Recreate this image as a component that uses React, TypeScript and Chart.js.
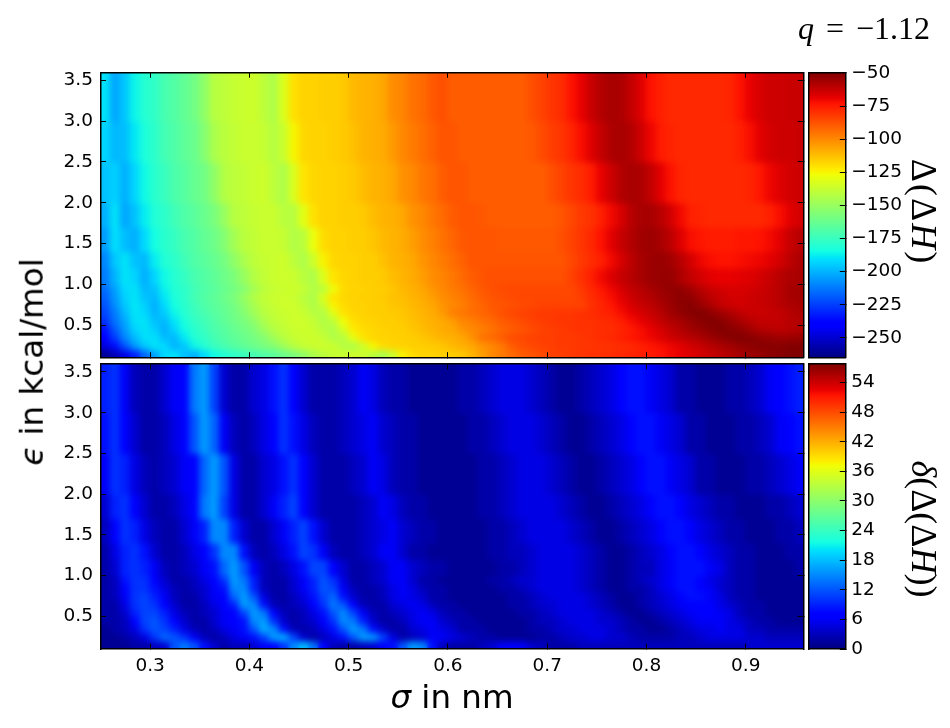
import React, { useEffect, useRef } from 'react';
import Chart from 'chart.js/auto';

// column centres in nm and row edges in kcal/mol (top row first)
const sigmaCols = [0.255,0.265,0.275,0.285,0.295,0.305,0.315,0.325,0.335,0.345,0.355,0.365,0.375,0.385,0.395,0.405,0.415,0.425,0.435,0.445,0.455,0.465,0.475,0.485,0.495,0.505,0.515,0.525,0.535,0.545,0.555,0.565,0.575,0.585,0.595,0.605,0.615,0.625,0.635,0.645,0.655,0.665,0.675,0.685,0.695,0.705,0.715,0.725,0.735,0.745,0.755,0.765,0.775,0.785,0.795,0.805,0.815,0.825,0.835,0.845,0.855,0.865,0.875,0.885,0.895,0.905,0.915,0.925,0.935,0.945,0.955];
const epsEdges = [3.6,3.0,2.5,2.0,1.7,1.4,1.2,1.0,0.9,0.8,0.7,0.6,0.5,0.4,0.3,0.2,0.1];

const sigmaTicks = [0.3,0.4,0.5,0.6,0.7,0.8,0.9];
const epsTicks = [0.5,1.0,1.5,2.0,2.5,3.0,3.5];
const deltaTicks = [-250,-225,-200,-175,-150,-125,-100,-75,-50];
const spreadTicks = [0,6,12,18,24,30,36,42,48,54];
const deltaRange = [-265, -49.5];
const spreadRange = [0, 57.8];

const deltaH = [
[-190,-203,-196,-186,-180,-177,-171,-168,-164,-160,-152,-142,-140,-138,-137,-136,-140,-144,-132,-120,-117,-117,-116,-116,-115,-111,-110,-109,-107,-101,-99,-95,-93,-89,-87,-90,-90,-90,-90,-90,-90,-90,-90,-87,-84,-81,-79,-73,-69,-63,-59,-57,-58,-62,-67,-73,-76,-78,-78,-78,-78,-78,-78,-77,-73,-69,-66,-64,-64,-63,-63],
[-193,-199,-198,-189,-182,-178,-172,-169,-165,-162,-155,-145,-141,-139,-137,-137,-138,-142,-137,-125,-118,-117,-117,-116,-115,-113,-110,-109,-108,-104,-100,-97,-94,-91,-88,-88,-90,-90,-90,-90,-90,-90,-90,-89,-86,-83,-81,-77,-72,-67,-62,-58,-57,-59,-64,-70,-75,-77,-78,-78,-78,-78,-78,-78,-76,-72,-68,-65,-64,-64,-63],
[-197,-194,-201,-193,-185,-179,-175,-170,-167,-163,-160,-152,-143,-140,-139,-137,-136,-140,-144,-133,-121,-118,-117,-117,-116,-115,-112,-110,-109,-107,-102,-100,-96,-94,-90,-88,-88,-90,-90,-90,-90,-90,-90,-90,-90,-87,-84,-81,-79,-75,-69,-64,-59,-57,-58,-62,-68,-73,-77,-78,-78,-78,-78,-78,-78,-77,-74,-70,-67,-65,-64],
[-201,-190,-203,-197,-188,-181,-178,-173,-169,-166,-162,-158,-150,-142,-140,-138,-137,-137,-141,-142,-130,-120,-117,-117,-116,-116,-115,-112,-110,-109,-107,-102,-100,-96,-93,-90,-88,-88,-89,-90,-90,-90,-90,-90,-90,-90,-88,-85,-82,-80,-76,-71,-66,-60,-57,-57,-60,-65,-71,-76,-77,-78,-78,-78,-78,-78,-78,-76,-72,-68,-65],
[-205,-191,-198,-201,-192,-184,-179,-176,-171,-168,-164,-161,-155,-147,-141,-139,-137,-137,-138,-143,-141,-128,-119,-117,-117,-116,-116,-114,-111,-110,-108,-105,-101,-98,-95,-92,-89,-88,-88,-88,-89,-89,-89,-89,-89,-89,-87,-84,-81,-78,-73,-68,-63,-59,-56,-55,-57,-61,-67,-72,-74,-75,-75,-75,-74,-74,-73,-71,-68,-63,-60],
[-210,-196,-190,-197,-199,-188,-181,-178,-173,-169,-166,-163,-159,-152,-145,-140,-138,-137,-136,-140,-144,-136,-124,-118,-117,-117,-116,-116,-113,-110,-109,-107,-103,-100,-97,-94,-91,-88,-88,-88,-88,-88,-88,-88,-88,-88,-88,-85,-82,-79,-76,-71,-66,-61,-57,-55,-54,-56,-60,-65,-70,-72,-73,-73,-72,-71,-70,-68,-65,-61,-58],
[-212,-200,-190,-193,-201,-193,-185,-180,-176,-171,-168,-165,-161,-157,-150,-143,-139,-137,-136,-137,-141,-144,-132,-121,-118,-117,-116,-116,-115,-112,-110,-108,-105,-101,-99,-96,-93,-90,-88,-87,-87,-87,-87,-87,-87,-87,-87,-84,-80,-76,-71,-67,-63,-60,-57,-55,-54,-54,-58,-62,-65,-68,-69,-69,-68,-67,-65,-63,-60,-58,-57],
[-215,-204,-192,-190,-199,-197,-187,-181,-178,-173,-169,-166,-163,-159,-155,-147,-141,-138,-137,-136,-138,-143,-141,-127,-119,-117,-117,-116,-116,-114,-111,-109,-107,-103,-100,-97,-95,-92,-89,-87,-86,-85,-85,-85,-85,-85,-85,-85,-82,-78,-74,-70,-66,-62,-60,-57,-55,-53,-53,-56,-60,-63,-65,-66,-66,-65,-64,-62,-60,-57,-56],
[-218,-206,-194,-190,-197,-199,-189,-182,-178,-172,-168,-165,-161,-157,-150,-143,-139,-137,-136,-137,-141,-144,-132,-121,-118,-117,-116,-116,-115,-113,-112,-110,-108,-105,-101,-99,-96,-93,-90,-88,-87,-86,-85,-85,-85,-85,-85,-85,-83,-79,-76,-72,-68,-64,-61,-59,-56,-54,-52,-53,-57,-61,-63,-65,-65,-64,-63,-62,-60,-57,-56],
[-221,-208,-196,-189,-194,-201,-192,-184,-179,-174,-169,-166,-163,-159,-153,-146,-140,-138,-136,-136,-139,-144,-137,-124,-119,-117,-117,-116,-116,-114,-113,-111,-109,-107,-103,-100,-98,-94,-92,-89,-88,-87,-86,-85,-84,-84,-84,-84,-84,-80,-77,-74,-70,-66,-63,-61,-58,-55,-52,-51,-54,-58,-62,-64,-65,-64,-63,-62,-60,-58,-57],
[-224,-212,-199,-190,-192,-200,-195,-186,-180,-175,-171,-167,-164,-160,-155,-148,-142,-139,-137,-136,-137,-141,-143,-131,-121,-118,-117,-116,-116,-115,-114,-112,-110,-108,-104,-98,-96,-94,-92,-90,-87,-85,-84,-83,-82,-82,-81,-81,-80,-79,-77,-76,-72,-69,-66,-63,-60,-56,-53,-51,-50,-52,-55,-58,-61,-63,-63,-63,-62,-60,-58],
[-228,-214,-203,-191,-190,-197,-199,-190,-183,-177,-173,-169,-165,-161,-158,-153,-145,-140,-138,-136,-136,-138,-143,-140,-127,-120,-118,-117,-116,-116,-115,-113,-111,-109,-108,-105,-100,-98,-95,-93,-90,-88,-86,-84,-83,-82,-81,-81,-80,-80,-79,-78,-76,-72,-69,-66,-62,-59,-57,-54,-52,-50,-51,-54,-57,-60,-62,-62,-62,-60,-59],
[-235,-219,-206,-194,-190,-194,-201,-193,-185,-179,-175,-170,-167,-163,-160,-156,-149,-143,-139,-137,-136,-137,-141,-144,-134,-123,-119,-118,-117,-116,-116,-114,-112,-110,-108,-107,-103,-100,-98,-95,-92,-90,-88,-86,-84,-83,-82,-81,-80,-80,-79,-79,-77,-75,-72,-69,-66,-62,-59,-56,-54,-52,-50,-51,-53,-56,-59,-60,-61,-60,-59],
[-241,-226,-210,-199,-191,-191,-198,-199,-189,-181,-177,-172,-168,-165,-162,-159,-155,-148,-142,-138,-137,-136,-138,-143,-142,-130,-121,-118,-117,-117,-116,-116,-114,-112,-110,-109,-107,-102,-95,-93,-90,-86,-85,-84,-83,-83,-82,-82,-81,-80,-79,-78,-76,-74,-72,-70,-67,-64,-62,-60,-58,-55,-53,-51,-50,-51,-53,-54,-55,-55,-54],
[-247,-236,-221,-206,-196,-190,-192,-200,-196,-186,-180,-175,-171,-167,-164,-161,-158,-155,-148,-142,-138,-137,-136,-137,-142,-144,-136,-125,-119,-117,-117,-116,-116,-115,-114,-111,-109,-107,-103,-100,-96,-90,-87,-85,-84,-83,-82,-82,-81,-81,-80,-80,-79,-78,-76,-74,-72,-70,-68,-65,-63,-60,-58,-56,-54,-52,-51,-51,-51,-50,-50],
[-261,-255,-246,-232,-217,-204,-192,-190,-197,-201,-192,-185,-181,-178,-175,-172,-169,-166,-162,-158,-152,-145,-141,-138,-137,-136,-137,-141,-145,-137,-124,-119,-117,-117,-116,-116,-114,-110,-105,-100,-97,-93,-90,-88,-86,-84,-83,-82,-81,-80,-80,-79,-78,-77,-76,-75,-73,-71,-69,-67,-65,-63,-61,-59,-57,-55,-54,-52,-51,-50,-49],
];

const spreadH = [
[9,10,6,3,2,2,4,6,7,14,16,11,4,2,2,4,5,8,10,7,4,2,2,2,3,4,6,5,3,2,2,1,1,1,1,1,2,2,3,4,5,5,5,4,3,2,1,1,2,3,4,5,7,8,8,6,5,4,2,2,1,1,1,2,2,3,4,6,7,8,9],
[8,10,7,4,2,2,3,5,7,12,16,13,6,3,2,3,5,7,10,8,5,3,2,2,3,4,5,6,4,3,2,2,1,1,1,1,1,2,2,3,4,5,5,5,4,3,2,1,1,2,3,4,5,7,8,8,6,5,4,2,2,1,1,1,2,2,3,4,6,7,8],
[6,10,9,5,3,2,3,4,6,7,13,16,12,5,2,2,4,5,8,10,7,4,2,2,2,3,4,6,5,3,2,2,1,1,1,1,1,1,2,2,3,4,5,5,5,4,3,2,1,1,2,3,4,5,7,8,8,6,5,4,2,2,1,1,1,2,2,3,4,5,6],
[4,9,10,7,4,2,2,3,5,7,14,16,11,5,2,2,4,6,9,11,7,4,2,2,2,2,3,4,6,5,3,2,2,1,1,1,1,1,2,2,3,4,5,5,5,5,4,3,2,1,1,2,3,4,5,7,8,8,7,5,4,3,2,2,1,1,1,2,2,3,4],
[3,7,10,9,5,3,2,2,4,6,9,15,15,9,4,2,2,4,6,9,11,8,4,2,2,2,3,4,5,6,4,3,2,2,1,1,1,1,1,2,2,3,4,5,5,5,5,4,3,2,1,1,2,3,4,5,7,8,8,7,5,4,3,2,2,1,1,1,2,2,3],
[2,5,9,10,8,4,2,2,3,5,7,10,15,15,8,3,2,3,5,8,11,10,6,3,2,2,3,4,6,6,4,2,2,1,1,1,1,1,1,2,2,3,3,4,5,5,5,5,4,3,2,1,1,2,3,4,5,7,8,8,7,5,4,3,2,2,1,1,1,2,2],
[2,4,9,10,9,6,3,2,3,4,6,8,13,16,12,6,3,2,3,5,8,11,11,7,4,2,2,3,4,6,6,4,3,2,2,1,1,1,1,1,2,2,3,4,5,5,5,5,4,3,2,1,1,2,3,3,5,6,8,8,8,6,5,3,2,2,1,1,1,1,2],
[2,3,8,10,10,7,4,2,2,3,5,7,10,16,14,9,3,2,2,4,6,9,12,10,5,2,2,3,4,6,6,4,2,2,1,1,1,1,1,2,2,3,4,4,5,5,5,5,4,3,2,1,1,2,3,4,5,7,8,8,7,5,4,3,2,2,1,1,1,1,1],
[2,3,7,10,10,8,5,3,2,3,4,6,8,15,15,9,3,2,2,4,6,9,12,11,6,3,2,2,3,5,6,5,3,2,2,1,1,1,1,1,2,2,3,4,5,5,5,5,4,3,2,1,1,2,2,3,5,6,8,8,7,6,4,3,2,2,1,1,1,1,1],
[2,3,6,10,11,9,6,3,2,2,4,6,7,13,16,12,5,2,2,3,5,8,11,13,8,4,2,2,3,5,6,5,4,2,2,1,1,1,1,1,1,2,2,3,4,5,5,5,5,4,3,2,1,1,2,3,4,5,7,8,8,6,5,3,2,2,1,1,1,1,1],
[2,2,5,10,11,10,7,4,2,2,3,5,7,9,16,15,8,3,2,3,4,7,10,14,12,7,3,2,2,4,5,6,5,3,2,2,1,1,1,1,1,2,2,3,4,4,5,5,5,4,3,2,1,1,2,3,4,5,6,7,7,7,5,4,3,2,2,1,1,1,1],
[2,2,4,9,11,11,9,5,3,2,3,4,6,7,11,16,14,7,3,2,3,5,8,12,15,11,6,3,2,3,4,5,6,5,3,2,2,1,1,1,1,1,2,2,3,4,5,5,5,5,4,3,2,1,1,2,3,4,5,6,7,7,6,5,3,2,2,1,1,1,1],
[2,2,3,7,11,12,10,7,4,2,2,4,6,7,8,15,16,10,4,2,3,4,7,10,15,14,9,4,2,2,3,5,6,6,4,3,2,2,1,1,1,1,1,2,3,3,4,5,5,5,4,4,3,2,1,1,2,3,4,5,6,6,6,5,4,3,2,2,1,1,1],
[1,2,3,5,10,12,11,9,5,3,2,3,5,6,8,12,17,15,8,3,2,3,5,8,12,16,14,8,4,2,2,4,5,6,5,4,2,2,2,1,1,1,1,2,2,3,4,4,5,5,5,4,3,2,2,1,1,2,3,4,5,5,6,5,5,3,3,2,2,2,2],
[1,1,2,3,5,10,13,12,10,6,3,2,3,5,6,8,11,16,17,11,4,2,3,5,8,12,16,16,11,5,2,3,4,6,6,5,4,3,2,2,1,1,1,1,2,2,3,4,4,5,5,4,4,3,2,2,2,2,3,3,4,5,5,5,5,4,4,3,3,3,3],
[1,1,1,2,2,3,4,12,14,12,8,4,2,3,3,4,6,7,10,15,18,14,7,3,2,2,3,4,6,8,12,16,15,8,3,2,2,2,3,4,6,7,6,4,3,2,2,2,3,3,3,3,3,3,3,3,3,3,3,3,3,3,3,3,3,4,4,4,4,4,4],
];

const TICK_FONT = { family: "'DejaVu Sans'", size: 18.5 };

// matplotlib's jet, as its red, green and blue breakpoints
const JET: number[][][] = [
  [[0, 0], [0.35, 0], [0.66, 1], [0.89, 1], [1, 0.5]],
  [[0, 0], [0.125, 0], [0.375, 1], [0.64, 1], [0.91, 0], [1, 0]],
  [[0, 0.5], [0.11, 1], [0.34, 1], [0.65, 0], [1, 0]],
];
const JET_STOPS = [0, 0.11, 0.125, 0.34, 0.35, 0.375, 0.64, 0.65, 0.66, 0.89, 0.91, 1];

const jet = (t: number) => {
  const c = Math.min(1, Math.max(0, t));
  const rgb = JET.map((pts) => {
    for (let i = 1; i < pts.length; i++) {
      if (c <= pts[i][0]) {
        const [x0, y0] = pts[i - 1];
        const [x1, y1] = pts[i];
        return Math.round(255 * (y0 + ((y1 - y0) * (c - x0)) / (x1 - x0)));
      }
    }
    return 0;
  });
  return `rgb(${rgb[0]},${rgb[1]},${rgb[2]})`;
};

// the reference is an interpolated image, so soften the cell edges before the frame goes on top
const softenCells = {
  id: 'softenCells',
  afterDatasetsDraw(chart: any) {
    const { ctx, canvas, chartArea: a } = chart;
    const r = canvas.width / chart.width;
    ctx.save();
    ctx.beginPath();
    ctx.rect(a.left, a.top, a.width, a.height);
    ctx.clip();
    ctx.filter = 'blur(3px)';
    ctx.drawImage(canvas, a.left * r, a.top * r, a.width * r, a.height * r, a.left, a.top, a.width, a.height);
    ctx.restore();
  },
};

// frame side plus inward tick marks, like a matplotlib axes
const side = (size: number, vertical: boolean, position: string, range: number[], ticks: number[], extra: any = {}) => ({
  type: 'linear',
  position,
  min: range[0],
  max: range[1],
  offset: false,
  afterFit: (s: any) => {
    if (vertical) s.width = size;
    else s.height = size;
    // the labels' own padding would push the chart area in
    s.paddingLeft = s.paddingRight = s.paddingTop = s.paddingBottom = 0;
  },
  afterBuildTicks: (s: any) => {
    s.ticks = ticks.map((value) => ({ value }));
  },
  border: { display: true, color: '#000', width: 1.5, z: 2 },
  grid: {
    offset: false,
    drawOnChartArea: false,
    drawTicks: ticks.length > 0,
    tickLength: -5.5,
    tickColor: '#000',
    tickWidth: 1,
    z: 2,
  },
  ticks: { display: false, autoSkip: false, maxRotation: 0, color: '#000', font: TICK_FONT, z: 2, ...extra },
});

const baseOptions = {
  responsive: false,
  animation: false,
  events: [],
  layout: { autoPadding: false, padding: 0 },
  plugins: { legend: { display: false }, tooltip: { enabled: false } },
};

type HeatProps = { rows: number[][]; range: number[]; top: number; height: number; topGap: number; bottomGap: number; showX: boolean };

const HeatPanel = ({ rows, range, top, height, topGap, bottomGap, showX }: HeatProps) => {
  const ref = useRef<HTMLCanvasElement>(null);

  useEffect(() => {
    if (!ref.current) return;
    const sigmaRange = [0.25, 0.958];
    const chart = new Chart(ref.current, {
      type: 'bar',
      plugins: [softenCells],
      data: {
        datasets: rows.map((row, r) => ({
          data: row.map((_, c) => ({ x: sigmaCols[c], y: [epsEdges[r + 1], epsEdges[r]] })),
          backgroundColor: row.map((v) => jet((v - range[0]) / (range[1] - range[0]))),
          grouped: false,
          barPercentage: 1,
          categoryPercentage: 1,
          borderWidth: 0,
          inflateAmount: 0.6,
        })),
      },
      options: {
        ...baseOptions,
        scales: {
          x: side(bottomGap, false, 'bottom', sigmaRange, sigmaTicks, {
            display: showX,
            padding: 12,
            callback: (v: any) => Number(v).toFixed(1),
          }),
          xTop: side(topGap, false, 'top', sigmaRange, sigmaTicks),
          y: side(100.5, true, 'left', [0.1, 3.6], epsTicks, {
            display: true,
            padding: 13,
            callback: (v: any) => Number(v).toFixed(1),
          }),
          yRight: side(4.7, true, 'right', [0.1, 3.6], epsTicks),
        },
      },
    } as any);
    return () => chart.destroy();
  }, []);

  return <canvas ref={ref} width={808} height={height} style={{ position: 'absolute', left: 0, top }} />;
};

type BarProps = { range: number[]; ticks: number[]; top: number; height: number; topGap: number; bottomGap: number };

const ColorBar = ({ range, ticks, top, height, topGap, bottomGap }: BarProps) => {
  const ref = useRef<HTMLCanvasElement>(null);

  useEffect(() => {
    if (!ref.current) return;
    const chart = new Chart(ref.current, {
      type: 'bar',
      data: {
        datasets: [
          {
            data: [{ x: 0.5, y: range }],
            barThickness: 60,
            grouped: false,
            borderWidth: 0,
            backgroundColor: (c: any) => {
              const area = c.chart.chartArea;
              if (!area) return 'transparent';
              const g = c.chart.ctx.createLinearGradient(0, area.bottom, 0, area.top);
              JET_STOPS.forEach((s) => g.addColorStop(s, jet(s)));
              return g;
            },
          },
        ],
      },
      options: {
        ...baseOptions,
        scales: {
          x: side(bottomGap, false, 'bottom', [0, 1], []),
          xTop: side(topGap, false, 'top', [0, 1], []),
          yLeft: side(9, true, 'left', range, []),
          y: side(104.7, true, 'right', range, ticks, {
            display: true,
            padding: 11.5,
            callback: (v: any) => String(v).replace('-', '\u2212'),
          }),
        },
      },
    } as any);
    return () => chart.destroy();
  }, []);

  return <canvas ref={ref} width={150} height={height} style={{ position: 'absolute', left: 800, top }} />;
};

const Label = ({ x, y, rotate = 0, style, children }: any) => (
  <div
    style={{
      position: 'absolute',
      left: x,
      top: y,
      whiteSpace: 'nowrap',
      color: '#000',
      lineHeight: 1,
      transform: `translate(-50%, -50%) rotate(${rotate}deg)`,
      ...style,
    }}
  >
    {children}
  </div>
);

const SANS = { fontFamily: "'DejaVu Sans'", fontSize: 32.5 };
const SERIF = { fontFamily: "'Liberation Serif'", fontSize: 36 };

export default function App() {
  return (
    <div style={{ position: 'absolute', left: 0, top: 0, width: 950, height: 728, background: '#fff', overflow: 'hidden' }}>
      <HeatPanel rows={deltaH} range={deltaRange} top={60} height={300} topGap={12.3} bottomGap={2.3} showX={false} />
      <HeatPanel rows={spreadH} range={spreadRange} top={355} height={340} topGap={8.8} bottomGap={46} showX />
      <ColorBar range={deltaRange} ticks={deltaTicks} top={60} height={300} topGap={12.3} bottomGap={2.3} />
      <ColorBar range={spreadRange} ticks={spreadTicks} top={355} height={340} topGap={8.8} bottomGap={46} />
      <Label x={864} y={28} style={{ fontFamily: "'Liberation Serif'", fontSize: 32, wordSpacing: 4 }}>
        <i>q</i> = {'\u2212'}1.12
      </Label>
      <Label x={452} y={697} style={SANS}>
        <i>σ</i> in nm
      </Label>
      <Label x={32} y={362} rotate={-90} style={SANS}>
        <i>ϵ</i> in kcal/mol
      </Label>
      <Label x={924} y={212} rotate={90} style={{ ...SERIF, letterSpacing: 2 }}>
        Δ(Δ<i>H</i>)
      </Label>
      <Label x={924} y={529} rotate={90} style={SERIF}>
        <i>δ</i>(Δ(Δ<i>H</i>))
      </Label>
    </div>
  );
}
